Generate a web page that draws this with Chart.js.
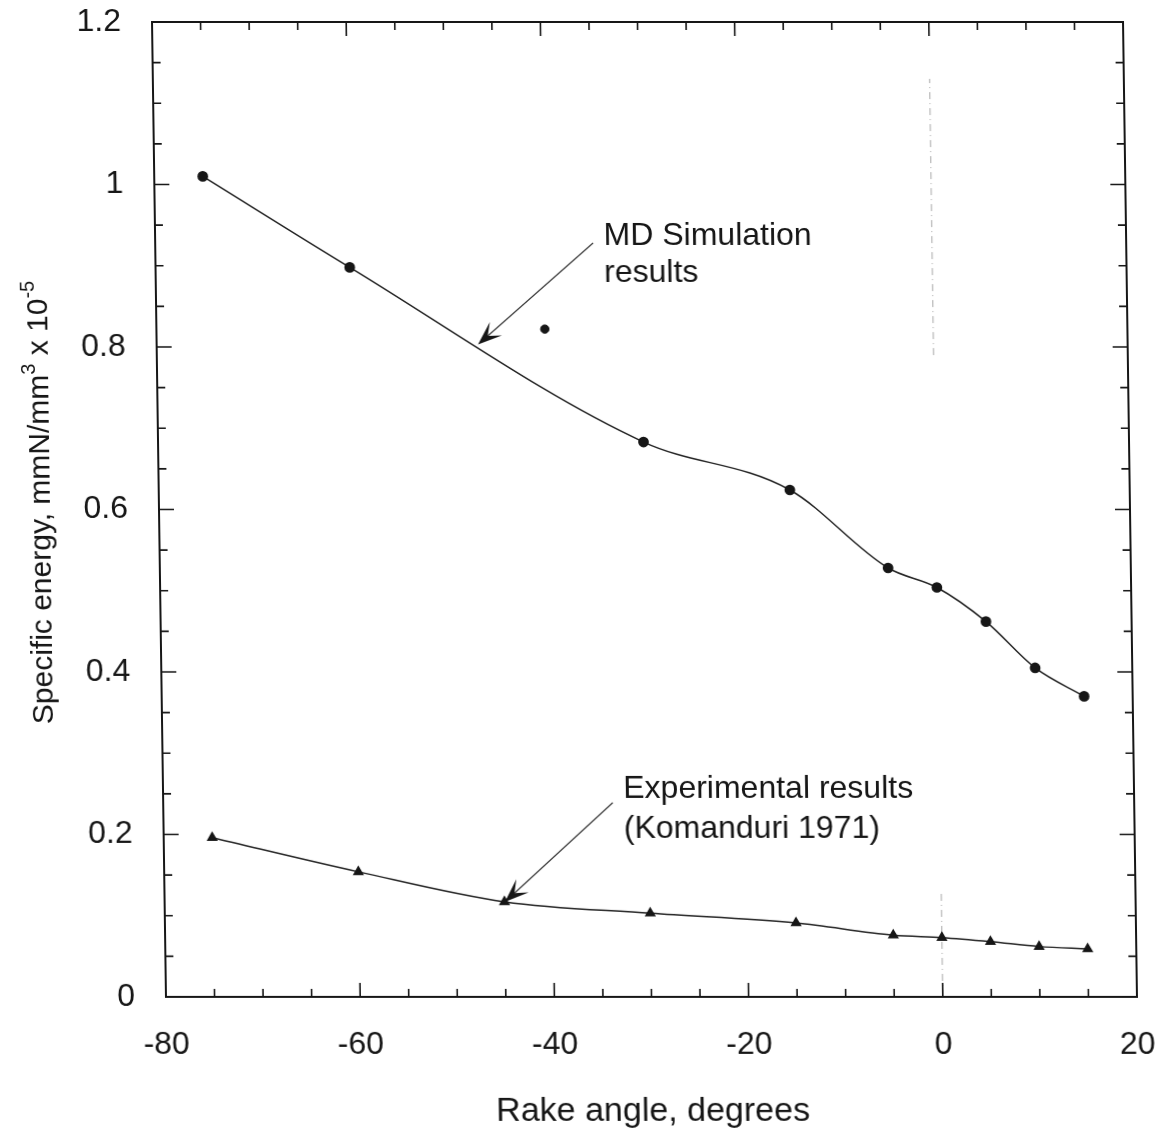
<!DOCTYPE html>
<html>
<head>
<meta charset="utf-8">
<script src="https://cdn.jsdelivr.net/npm/chart.js@4.4.1/dist/chart.umd.min.js"></script>
<style>
  html, body { margin: 0; padding: 0; background: #fff; }
  /* the plot frame leans slightly to the right going down */
  #myChart { display: block; transform: skewX(0.82deg); transform-origin: 0 510px; }
</style>
</head>
<body>
<canvas id="myChart" width="1167" height="1136"></canvas>
<script>
// MD simulation results
var mdAngle = [-75, -60, -30, -15, -5, 0, 5, 10, 15];
var mdEnergy = [1.01, 0.898, 0.683, 0.624, 0.528, 0.504, 0.462, 0.405, 0.370];
// single MD point off the curve
var mdExtraAngle = [-40];
var mdExtraEnergy = [0.822];
// experimental results (Komanduri 1971)
var expAngle = [-75, -60, -45, -30, -15, -5, 0, 5, 10, 15];
var expEnergy = [0.196, 0.154, 0.117, 0.103, 0.091, 0.076, 0.073, 0.068, 0.062, 0.059];

var xTicks = [-80, -60, -40, -20, 0, 20];
var yTicks = [0, 0.2, 0.4, 0.6, 0.8, 1, 1.2];

var FONT = '"Liberation Sans", Arial, Helvetica, sans-serif';
var INK = '#161616';

function toPoints(xs, ys) {
  return xs.map(function (v, i) { return { x: v, y: ys[i] }; });
}

// callouts, placed in data units
var notes = [
  { lines: ['MD Simulation', 'results'], x: -33.8, y: 0.9255, gap: 37,
    from: [-34.9, 0.928], to: [-46.9, 0.803] },
  { lines: ['Experimental results', '(Komanduri 1971)'], x: -32.6, y: 0.245, gap: 40,
    from: [-33.7, 0.239], to: [-44.95, 0.117] }
];

function drawArrow(ctx, x0, y0, x1, y1) {
  var a = Math.atan2(y1 - y0, x1 - x0);
  var dx = Math.cos(a), dy = Math.sin(a);
  var len = 24, w = 9, notch = 13;
  ctx.strokeStyle = '#3a3a3a';
  ctx.lineWidth = 1.2;
  ctx.beginPath();
  ctx.moveTo(x0, y0);
  ctx.lineTo(x1 - dx * notch, y1 - dy * notch);
  ctx.stroke();
  ctx.fillStyle = INK;
  ctx.beginPath();
  ctx.moveTo(x1, y1);
  ctx.lineTo(x1 - dx * len - dy * w, y1 - dy * len + dx * w);
  ctx.lineTo(x1 - dx * notch, y1 - dy * notch);
  ctx.lineTo(x1 - dx * len + dy * w, y1 - dy * len - dx * w);
  ctx.closePath();
  ctx.fill();
}

// keep tick labels from pushing the plot area around
function noOverflow(s) {
  s.paddingTop = 0; s.paddingBottom = 0;
  s.paddingLeft = 0; s.paddingRight = 0;
}

var decorations = {
  id: 'decorations',
  beforeDatasetsDraw: function (chart) {
    var ctx = chart.ctx, a = chart.chartArea;
    var x = chart.scales.x, y = chart.scales.y;
    ctx.save();

    // faint trace left at zero rake angle
    ctx.strokeStyle = '#a8a8a8';
    ctx.lineWidth = 1;
    ctx.setLineDash([7, 4, 1, 4]);
    [[0.79, 1.13], [0, 0.128]].forEach(function (seg) {
      ctx.beginPath();
      ctx.moveTo(x.getPixelForValue(0), y.getPixelForValue(seg[0]));
      ctx.lineTo(x.getPixelForValue(0), y.getPixelForValue(seg[1]));
      ctx.stroke();
    });
    ctx.setLineDash([]);

    // frame
    ctx.strokeStyle = INK;
    ctx.lineWidth = 2;
    ctx.strokeRect(a.left, a.top, a.right - a.left, a.bottom - a.top);

    // inward ticks on all four sides
    ctx.lineWidth = 1.6;
    var v, p, len;
    for (v = -80; v <= 20; v += 5) {
      p = x.getPixelForValue(v);
      len = v % 20 === 0 ? 14 : 8;
      ctx.beginPath();
      ctx.moveTo(p, a.bottom); ctx.lineTo(p, a.bottom - len);
      ctx.moveTo(p, a.top); ctx.lineTo(p, a.top + len);
      ctx.stroke();
    }
    for (var k = 0; k <= 24; k++) {
      p = y.getPixelForValue(k * 0.05);
      len = k % 4 === 0 ? 15 : 8;
      ctx.beginPath();
      ctx.moveTo(a.left, p); ctx.lineTo(a.left + len, p);
      ctx.moveTo(a.right, p); ctx.lineTo(a.right - len, p);
      ctx.stroke();
    }

    // callouts
    ctx.font = '32px ' + FONT;
    ctx.textBaseline = 'alphabetic';
    ctx.textAlign = 'left';
    notes.forEach(function (n) {
      var tx = x.getPixelForValue(n.x), ty = y.getPixelForValue(n.y);
      ctx.fillStyle = INK;
      n.lines.forEach(function (s, i) { ctx.fillText(s, tx, ty + i * n.gap); });
      drawArrow(ctx,
        x.getPixelForValue(n.from[0]), y.getPixelForValue(n.from[1]),
        x.getPixelForValue(n.to[0]), y.getPixelForValue(n.to[1]));
    });

    // y axis title with superscripts
    var parts = [
      ['Specific energy, mmN/mm', 30, 0],
      ['3', 20, -13],
      [' x 10', 30, 0],
      ['-5', 20, -13]
    ];
    var total = 0;
    parts.forEach(function (pt) { ctx.font = pt[1] + 'px ' + FONT; total += ctx.measureText(pt[0]).width; });
    ctx.translate(50, (a.top + a.bottom) / 2 - 7);
    ctx.rotate(-Math.PI / 2);
    var cx = -total / 2;
    parts.forEach(function (pt) {
      ctx.font = pt[1] + 'px ' + FONT;
      ctx.fillText(pt[0], cx, pt[2]);
      cx += ctx.measureText(pt[0]).width;
    });
    ctx.restore();
  }
};

new Chart('myChart', {
  type: 'scatter',
  data: {
    datasets: [{
      label: 'MD Simulation results',
      data: toPoints(mdAngle, mdEnergy),
      showLine: true,
      cubicInterpolationMode: 'monotone',
      borderColor: '#222',
      borderWidth: 1.5,
      pointStyle: 'circle',
      pointRadius: 4.6,
      pointBackgroundColor: INK,
      pointBorderColor: INK
    }, {
      label: 'MD Simulation (extra)',
      data: toPoints(mdExtraAngle, mdExtraEnergy),
      showLine: false,
      pointStyle: 'circle',
      pointRadius: 4.2,
      pointBackgroundColor: INK,
      pointBorderColor: INK
    }, {
      label: 'Experimental results (Komanduri 1971)',
      data: toPoints(expAngle, expEnergy),
      showLine: true,
      cubicInterpolationMode: 'monotone',
      borderColor: '#222',
      borderWidth: 1.5,
      pointStyle: 'triangle',
      pointRadius: 5,
      pointBackgroundColor: INK,
      pointBorderColor: INK
    }]
  },
  options: {
    responsive: false,
    animation: false,
    layout: { padding: { top: 22, right: 37, left: 0, bottom: 0 } },
    plugins: {
      legend: { display: false },
      tooltip: { enabled: false }
    },
    scales: {
      x: {
        type: 'linear',
        min: -80, max: 20,
        afterBuildTicks: function (s) { s.ticks = xTicks.map(function (v) { return { value: v }; }); },
        afterFit: function (s) { s.height = 139; noOverflow(s); },
        grid: { display: false },
        border: { display: false },
        ticks: {
          color: INK,
          font: { family: FONT, size: 32 },
          padding: 21,
          maxRotation: 0,
          callback: function (v) { return String(v); }
        },
        title: {
          display: true,
          text: 'Rake angle, degrees',
          color: INK,
          font: { family: FONT, size: 34 },
          padding: { top: 0, bottom: 4 }
        }
      },
      y: {
        type: 'linear',
        min: 0, max: 1.2,
        afterBuildTicks: function (s) { s.ticks = yTicks.map(function (v) { return { value: v }; }); },
        afterFit: function (s) { s.width = 159; noOverflow(s); },
        grid: { display: false },
        border: { display: false },
        ticks: {
          color: INK,
          font: { family: FONT, size: 32 },
          padding: 23,
          callback: function (v) { return String(parseFloat(Number(v).toFixed(2))); }
        }
      }
    }
  },
  plugins: [decorations]
});
</script>
</body>
</html>
